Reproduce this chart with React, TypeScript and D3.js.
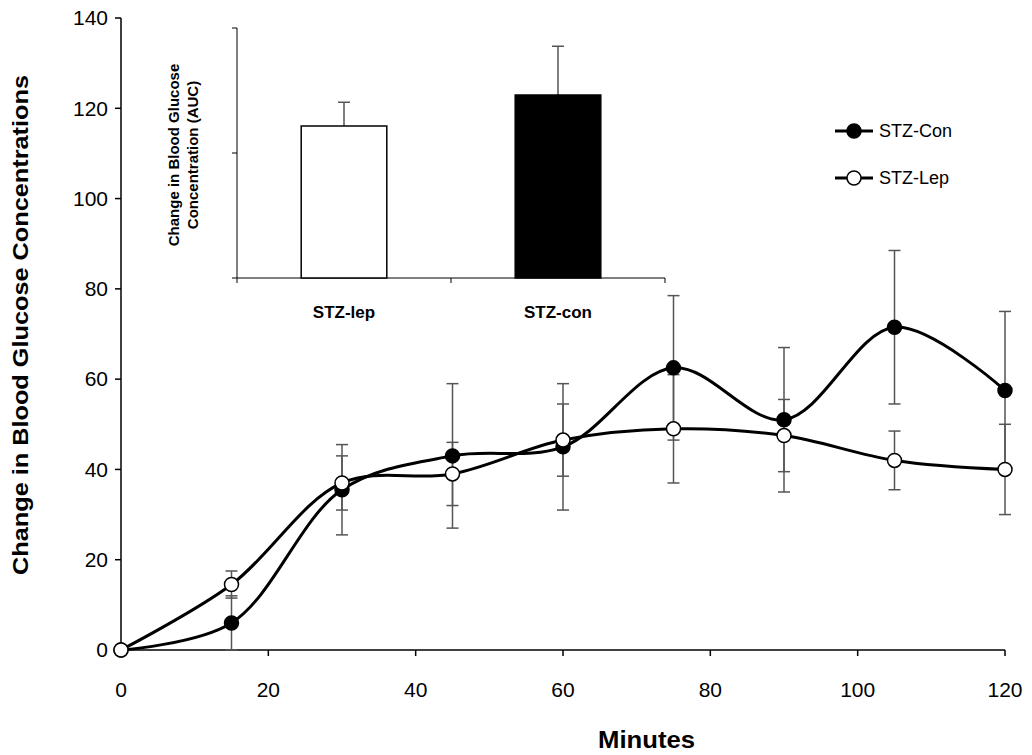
import React from "react";
import * as d3 from "d3";

const minutes = [0, 15, 30, 45, 60, 75, 90, 105, 120];
const conVals = [0, 6, 35.5, 43, 45, 62.5, 51, 71.5, 57.5];
const conErr = [0, 6, 10, 16, 14, 16, 16, 17, 17.5];
const lepVals = [0, 14.5, 37, 39, 46.5, 49, 47.5, 42, 40];
const lepErr = [0, 3, 6, 7, 8, 12, 8, 6.5, 10];
const xTicks = [0, 20, 40, 60, 80, 100, 120];
const yTicks = [0, 20, 40, 60, 80, 100, 120, 140];
const insetCats = ["STZ-lep", "STZ-con"];
const insetVals = [121.6, 146.4];
const insetErr = [19, 39];
const insetFill = ["white", "black"];

export default function App() {
  const x = d3.scaleLinear().domain([0, 120]).range([121, 1005]);
  const y = d3.scaleLinear().domain([0, 140]).range([650, 18]);
  const line = d3.line<number>().x((_, i) => x(minutes[i])).y(d => y(d)).curve(d3.curveCatmullRom.alpha(0.5));
  const iy = d3.scaleLinear().domain([0, 200]).range([278, 28]);
  const ix = d3.scaleBand().domain(insetCats).range([237, 665]).paddingInner(0.6).paddingOuter(0.3);
  const font = "Liberation Sans, Arial, sans-serif";
  const series = [
    { v: conVals, e: conErr, fill: "black" },
    { v: lepVals, e: lepErr, fill: "white" },
  ];
  return (
    <svg width={1032} height={755} style={{ position: "absolute", left: 0, top: 0, fontFamily: font }}>
      <rect width={1032} height={755} fill="white" />
      <line x1={121} x2={121} y1={18} y2={650} stroke="#000" strokeWidth={1.5} />
      <line x1={121} x2={1005} y1={650} y2={650} stroke="#000" strokeWidth={1.5} />
      {yTicks.map(t => (
        <g key={t}>
          <line x1={115} x2={121} y1={y(t)} y2={y(t)} stroke="#000" strokeWidth={1.5} />
          <text x={108} y={y(t)} dy="0.35em" textAnchor="end" fontSize={21}>{t}</text>
        </g>
      ))}
      {xTicks.map(t => (
        <g key={t}>
          <line x1={x(t)} x2={x(t)} y1={650} y2={656} stroke="#000" strokeWidth={1.5} />
          <text x={x(t)} y={697} textAnchor="middle" fontSize={21}>{t}</text>
        </g>
      ))}
      <text x={598} y={748} textLength={97} lengthAdjust="spacingAndGlyphs" fontSize={23} fontWeight="bold">Minutes</text>
      <text transform="translate(28,575) rotate(-90)" textLength={500} lengthAdjust="spacingAndGlyphs" fontSize={22} fontWeight="bold">Change in Blood Glucose Concentrations</text>
      {series.map((s, k) => s.v.map((v, i) => s.e[i] > 0 && (
        <g key={`e${k}${i}`} stroke="#555" strokeWidth={1.5}>
          <line x1={x(minutes[i])} x2={x(minutes[i])} y1={y(v - s.e[i])} y2={y(v + s.e[i])} />
          <line x1={x(minutes[i]) - 6} x2={x(minutes[i]) + 6} y1={y(v - s.e[i])} y2={y(v - s.e[i])} />
          <line x1={x(minutes[i]) - 6} x2={x(minutes[i]) + 6} y1={y(v + s.e[i])} y2={y(v + s.e[i])} />
        </g>
      )))}
      {series.map((s, k) => (
        <path key={`l${k}`} d={line(s.v) || ""} fill="none" stroke="#000" strokeWidth={3} />
      ))}
      {series.map((s, k) => s.v.map((v, i) => (
        <circle key={`c${k}${i}`} cx={x(minutes[i])} cy={y(v)} r={7} fill={s.fill} stroke="#000" strokeWidth={1.5} />
      )))}
      {series.map((s, k) => (
        <g key={`lg${k}`} transform={`translate(835,${131 + k * 47})`}>
          <line x1={0} x2={38} y1={0} y2={0} stroke="#000" strokeWidth={3} />
          <circle cx={19} cy={0} r={7} fill={s.fill} stroke="#000" strokeWidth={1.5} />
          <text x={44} y={0} dy="0.35em" fontSize={18}>{k === 0 ? "STZ-Con" : "STZ-Lep"}</text>
        </g>
      ))}
      <line x1={237} x2={237} y1={28} y2={278} stroke="#000" strokeWidth={1} />
      <line x1={237} x2={665} y1={278} y2={278} stroke="#000" strokeWidth={1} />
      {[0, 100, 200].map(t => (
        <line key={t} x1={232} x2={237} y1={iy(t)} y2={iy(t)} stroke="#000" />
      ))}
      {[237, 451, 665].map(p => (
        <line key={p} x1={p} x2={p} y1={278} y2={283} stroke="#000" />
      ))}
      {insetCats.map((c, i) => {
        const bx = ix(c)!;
        const cx = bx + ix.bandwidth() / 2;
        return (
          <g key={c}>
            <line x1={cx} x2={cx} y1={iy(insetVals[i])} y2={iy(insetVals[i] + insetErr[i])} stroke="#555" strokeWidth={1.5} />
            <line x1={cx - 6} x2={cx + 6} y1={iy(insetVals[i] + insetErr[i])} y2={iy(insetVals[i] + insetErr[i])} stroke="#555" strokeWidth={1.5} />
            <rect x={bx} y={iy(insetVals[i])} width={ix.bandwidth()} height={278 - iy(insetVals[i])} fill={insetFill[i]} stroke="#000" strokeWidth={1.5} />
            <text x={cx} y={318} textAnchor="middle" fontSize={17} fontWeight="bold">{c}</text>
          </g>
        );
      })}
      <text transform="translate(185,155) rotate(-90)" textAnchor="middle" fontSize={15} fontWeight="bold">
        <tspan x={0} dy={-6}>Change in Blood Glucose</tspan>
        <tspan x={0} dy={19}>Concentration (AUC)</tspan>
      </text>
    </svg>
  );
}
